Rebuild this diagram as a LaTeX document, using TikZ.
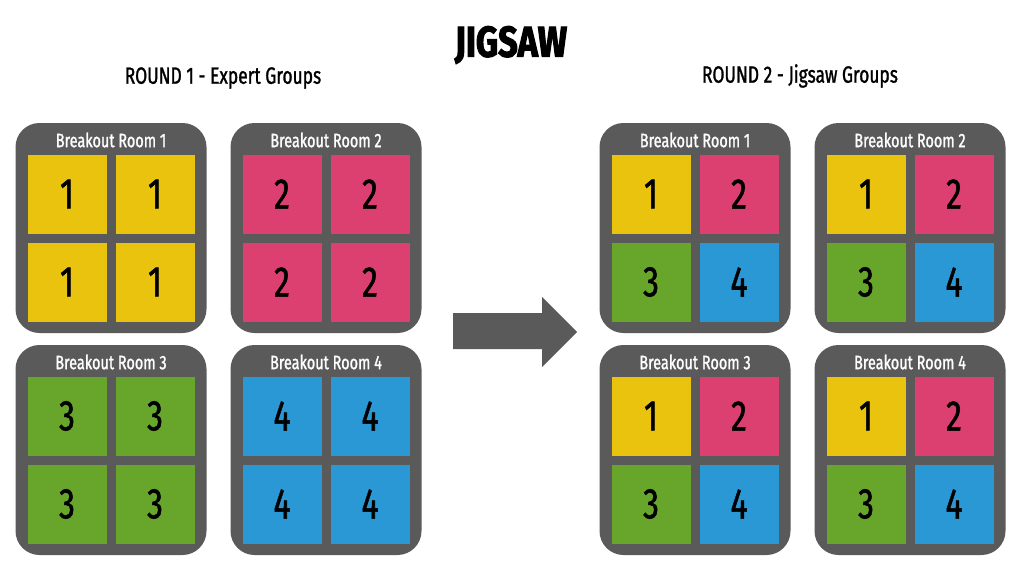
\documentclass[tikz,border=0pt]{standalone}
\usepackage{fontspec}
\setmainfont{Fira Sans}
\newfontfamily\narrowfont[FakeStretch=0.74,FakeBold=1.2]{Fira Sans}
\newfontfamily\titlefont[FakeStretch=0.8,FakeBold=2.5]{Fira Sans Bold}
\usetikzlibrary{positioning}
\definecolor{roomgrey}{HTML}{5A5A5A}
\definecolor{grp1}{HTML}{EAC30F}
\definecolor{grp2}{HTML}{DC4070}
\definecolor{grp3}{HTML}{67A52B}
\definecolor{grp4}{HTML}{2A98D5}

\begin{document}
\begin{tikzpicture}[x=1pt,y=-1pt,
  room/.style={fill=roomgrey,rounded corners=24pt,minimum width=191pt,minimum height=210pt,inner sep=0pt},
  seat/.style={minimum size=79pt,inner sep=0pt,font=\narrowfont\fontsize{43}{43}\selectfont},
  roomlabel/.style={text=white,font=\narrowfont\fontsize{19.5}{19.5}\selectfont},
  heading/.style={font=\narrowfont\fontsize{23.5}{23.5}\selectfont}]
\useasboundingbox (0,0) rectangle (1024,575);
\node (title) at (511,45) {\titlefont\fontsize{43}{43}\selectfont JIGSAW};
\node[heading] (round1) at (223,78) {ROUND 1 - Expert Groups};
\node[heading] (round2) at (800,76) {ROUND 2 - Jigsaw Groups};
% round 1: expert groups
\foreach \r/\cx/\cy in {1/111/228, 2/326/228, 3/111/450, 4/326/450} {
  \node[room] (L\r) at (\cx,\cy) {};
  \node[roomlabel] (L\r-label) at (\cx,\cy-88) {Breakout Room \r};
  \foreach \s/\dx/\dy in {a/-44/-34, b/44/-34, c/-44/54, d/44/54}
    \node[seat,fill=grp\r] (L\r-\s) at (\cx+\dx,\cy+\dy) {\r};
}
% round 2: jigsaw groups
\foreach \r/\cx/\cy in {1/695/228, 2/910/228, 3/695/450, 4/910/450} {
  \node[room] (R\r) at (\cx,\cy) {};
  \node[roomlabel] (R\r-label) at (\cx,\cy-88) {Breakout Room \r};
  \foreach \s/\g/\dx/\dy in {a/1/-44/-34, b/2/44/-34, c/3/-44/54, d/4/44/54}
    \node[seat,fill=grp\g] (R\r-\s) at (\cx+\dx,\cy+\dy) {\g};
}
% block arrow
\fill[roomgrey] (453,313) -- (542,313) -- (542,297) -- (577,332) -- (542,367)
  -- (542,349) -- (453,349) -- cycle;
\end{tikzpicture}
\end{document}
